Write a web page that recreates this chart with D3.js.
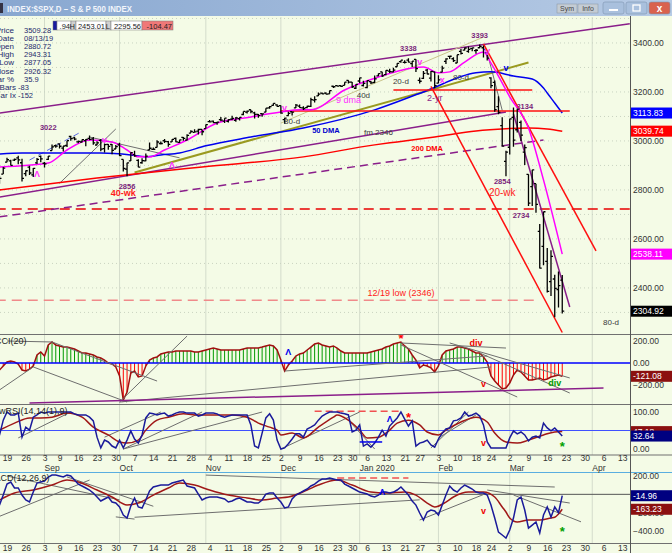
<!DOCTYPE html>
<html>
<head>
<meta charset="utf-8">
<script src="https://cdn.jsdelivr.net/npm/d3@7"></script>
<style>
body { margin: 0; background: #f4fbe6; }
svg { display: block; font-family: "Liberation Sans", Arial, sans-serif; }
</style>
</head>
<body>
<svg id="chart" width="672" height="553"></svg>
<script>
// trading days (plus the empty days to the right of the last bar)
var dates = [
"2019-08-14","2019-08-15","2019-08-16","2019-08-19","2019-08-20","2019-08-21","2019-08-22","2019-08-23","2019-08-26","2019-08-27","2019-08-28","2019-08-29","2019-08-30",
"2019-09-03","2019-09-04","2019-09-05","2019-09-06","2019-09-09","2019-09-10","2019-09-11","2019-09-12","2019-09-13","2019-09-16","2019-09-17","2019-09-18","2019-09-19","2019-09-20","2019-09-23","2019-09-24","2019-09-25","2019-09-26","2019-09-27","2019-09-30",
"2019-10-01","2019-10-02","2019-10-03","2019-10-04","2019-10-07","2019-10-08","2019-10-09","2019-10-10","2019-10-11","2019-10-14","2019-10-15","2019-10-16","2019-10-17","2019-10-18","2019-10-21","2019-10-22","2019-10-23","2019-10-24","2019-10-25","2019-10-28","2019-10-29","2019-10-30","2019-10-31",
"2019-11-01","2019-11-04","2019-11-05","2019-11-06","2019-11-07","2019-11-08","2019-11-11","2019-11-12","2019-11-13","2019-11-14","2019-11-15","2019-11-18","2019-11-19","2019-11-20","2019-11-21","2019-11-22","2019-11-25","2019-11-26","2019-11-27","2019-11-29",
"2019-12-02","2019-12-03","2019-12-04","2019-12-05","2019-12-06","2019-12-09","2019-12-10","2019-12-11","2019-12-12","2019-12-13","2019-12-16","2019-12-17","2019-12-18","2019-12-19","2019-12-20","2019-12-23","2019-12-24","2019-12-26","2019-12-27","2019-12-30","2019-12-31",
"2020-01-02","2020-01-03","2020-01-06","2020-01-07","2020-01-08","2020-01-09","2020-01-10","2020-01-13","2020-01-14","2020-01-15","2020-01-16","2020-01-17","2020-01-21","2020-01-22","2020-01-23","2020-01-24","2020-01-27","2020-01-28","2020-01-29","2020-01-30","2020-01-31",
"2020-02-03","2020-02-04","2020-02-05","2020-02-06","2020-02-07","2020-02-10","2020-02-11","2020-02-12","2020-02-13","2020-02-14","2020-02-18","2020-02-19","2020-02-20","2020-02-21","2020-02-24","2020-02-25","2020-02-26","2020-02-27","2020-02-28",
"2020-03-02","2020-03-03","2020-03-04","2020-03-05","2020-03-06","2020-03-09","2020-03-10","2020-03-11","2020-03-12","2020-03-13","2020-03-16","2020-03-17","2020-03-18","2020-03-19","2020-03-20",
"2020-03-23","2020-03-24","2020-03-25","2020-03-26","2020-03-27","2020-03-30","2020-03-31",
"2020-04-01","2020-04-02","2020-04-03","2020-04-06","2020-04-07","2020-04-08","2020-04-09","2020-04-10","2020-04-13","2020-04-14","2020-04-15","2020-04-16","2020-04-17"
];

var open = [
2894.15,2846.20,2864.74,2913.48,2919.01,2922.04,2930.94,2911.07,2866.70,2893.14,2861.28,2910.37,2937.09,
2909.01,2924.67,2960.60,2980.33,2988.43,2971.01,2981.41,3018.21,3012.21,2996.41,2995.67,3001.50,3010.36,3008.42,2983.50,3002.43,2968.35,2985.73,2985.47,2967.07,
2983.69,2924.78,2885.38,2918.56,2944.23,2920.40,2911.10,2918.55,2963.07,2965.81,2973.61,2989.68,3000.77,2996.84,2996.48,3010.73,2994.01,3014.78,3003.32,3032.12,3035.39,3039.74,3046.90,
3050.72,3078.96,3080.80,3075.10,3087.02,3081.25,3080.33,3089.28,3084.18,3090.75,3107.92,3117.91,3127.45,3114.66,3108.49,3111.41,3117.44,3134.85,3145.49,3147.18,
3143.85,3087.41,3103.50,3119.21,3134.62,3141.86,3135.36,3135.75,3141.23,3166.65,3183.63,3195.40,3195.21,3192.32,3223.33,3226.05,3225.45,3227.20,3247.23,3240.09,3215.18,
3244.67,3226.36,3217.55,3241.86,3238.59,3266.03,3281.81,3271.13,3285.35,3282.27,3302.97,3323.66,3321.03,3330.02,3315.77,3333.10,3247.16,3255.35,3289.46,3256.45,3282.33,
3235.66,3280.61,3324.91,3344.92,3335.54,3318.28,3365.87,3370.50,3365.90,3378.08,3369.04,3380.39,3380.45,3360.50,3257.61,3238.94,3139.90,3062.54,2916.90,
2974.28,3096.46,3045.75,3075.70,2954.20,2863.89,2813.48,2825.60,2630.86,2569.99,2508.59,2425.66,2436.50,2393.48,2431.94
];
var high = [
2894.15,2856.67,2893.63,2931.00,2923.63,2928.73,2939.08,2927.01,2879.27,2898.79,2890.03,2930.50,2940.43,
2914.39,2938.84,2985.86,2985.03,2989.43,2979.39,3000.93,3020.74,3017.33,3002.19,3006.21,3007.83,3021.99,3016.37,2999.15,3007.98,2989.82,2987.28,2987.31,2983.85,
2992.53,2924.78,2911.13,2953.74,2959.75,2925.47,2929.32,2948.46,2993.28,2972.84,3003.28,2997.54,3008.29,3000.00,3007.33,3014.57,3004.78,3016.07,3027.39,3044.08,3047.87,3050.10,3046.90,
3066.95,3085.20,3083.95,3078.34,3097.77,3093.09,3088.33,3102.61,3098.06,3097.20,3120.46,3124.17,3127.64,3118.97,3110.11,3112.87,3133.83,3142.69,3154.26,3150.30,
3144.31,3094.97,3119.38,3119.45,3150.60,3148.87,3142.12,3143.98,3176.28,3182.68,3197.71,3198.22,3198.48,3205.48,3225.65,3227.78,3226.43,3240.08,3247.93,3240.92,3231.72,
3258.14,3246.15,3246.84,3244.91,3267.07,3275.58,3282.99,3288.13,3294.25,3298.66,3317.11,3329.88,3329.79,3337.77,3326.88,3333.18,3258.85,3285.78,3293.47,3285.91,3282.33,
3268.44,3306.92,3337.58,3347.96,3341.42,3352.26,3375.63,3381.47,3385.09,3380.69,3375.01,3393.52,3389.15,3360.76,3259.81,3246.99,3182.51,3097.07,2959.72,
3090.96,3136.72,3130.97,3083.04,2985.93,2863.89,2882.59,2825.60,2660.95,2711.33,2562.98,2553.93,2453.57,2466.97,2453.01
];
var low = [
2839.64,2825.51,2864.74,2913.48,2899.60,2917.91,2904.51,2834.97,2856.00,2860.59,2853.05,2905.67,2913.32,
2891.85,2921.86,2960.60,2972.51,2969.39,2957.01,2975.31,3000.92,3002.90,2990.67,2993.73,2978.57,3003.16,2984.68,2982.23,2957.73,2952.86,2963.71,2945.53,2967.07,
2938.70,2874.93,2855.94,2918.56,2935.68,2892.66,2907.41,2917.12,2963.07,2962.94,2973.61,2985.20,2991.79,2976.31,2995.35,2995.04,2991.21,3000.42,3001.94,3032.12,3034.81,3025.96,3023.19,
3050.72,3074.87,3072.15,3065.89,3080.23,3073.58,3075.82,3084.73,3078.80,3083.26,3104.60,3112.06,3113.47,3091.41,3094.55,3099.26,3117.44,3131.00,3143.41,3139.34,
3110.78,3070.33,3102.53,3103.76,3134.62,3135.46,3126.09,3133.21,3138.47,3156.51,3183.63,3191.03,3191.14,3192.32,3216.03,3222.30,3220.51,3227.20,3234.37,3216.57,3212.03,
3235.53,3222.34,3214.64,3232.43,3236.67,3263.67,3260.86,3268.43,3277.19,3280.69,3302.82,3318.86,3316.61,3320.04,3301.87,3281.53,3234.50,3253.22,3271.89,3242.80,3214.68,
3235.66,3280.61,3313.75,3334.39,3322.12,3317.77,3352.72,3369.72,3360.52,3366.15,3355.61,3378.83,3341.02,3328.45,3214.65,3118.77,3108.99,2977.39,2855.84,
2945.19,2976.63,3034.38,2999.83,2901.54,2734.43,2734.00,2707.22,2478.86,2492.37,2380.94,2367.04,2280.52,2319.78,2295.56
];
var close = [
2840.60,2847.60,2888.68,2923.65,2900.51,2924.43,2922.95,2847.11,2878.38,2869.16,2887.94,2924.58,2926.46,
2906.27,2937.78,2976.00,2978.71,2978.43,2979.39,3000.93,3009.57,3007.39,2997.96,3005.70,3006.73,3006.79,2992.07,2991.78,2966.60,2984.87,2977.62,2961.79,2976.74,
2940.25,2887.61,2910.63,2952.01,2938.79,2893.06,2919.40,2938.13,2970.27,2966.15,2995.68,2989.69,2997.95,2986.20,3006.72,2995.99,3004.52,3010.29,3022.55,3039.42,3036.89,3046.77,3037.56,
3066.91,3078.27,3074.62,3076.78,3085.18,3093.08,3087.01,3091.84,3094.04,3096.63,3120.46,3122.03,3120.18,3108.46,3103.54,3110.29,3133.64,3140.52,3153.63,3140.98,
3113.87,3093.20,3112.76,3117.43,3145.91,3135.96,3132.52,3141.63,3168.57,3168.80,3191.45,3192.52,3191.14,3205.37,3221.22,3224.01,3223.38,3239.91,3240.02,3221.29,3230.78,
3257.85,3234.85,3246.28,3237.18,3253.05,3274.70,3265.35,3288.13,3283.15,3289.29,3316.81,3329.62,3320.79,3321.75,3325.54,3295.47,3243.63,3276.24,3273.40,3283.66,3225.52,
3248.92,3297.59,3334.69,3345.78,3327.71,3352.09,3357.75,3379.45,3373.94,3380.16,3370.29,3386.15,3373.23,3337.75,3225.89,3128.21,3116.39,2978.76,2954.22,
3090.23,3003.37,3130.12,3023.94,2972.37,2746.56,2882.23,2741.38,2480.64,2711.02,2386.13,2529.19,2398.10,2409.39,2304.92
];

// indicators
var cci = [
-45,-64,-27,9,18,9,-9,-64,-73,-55,-27,73,100,
64,164,191,164,155,145,145,136,127,109,91,91,82,73,55,45,27,0,-9,-36,
-118,-336,-264,-91,-73,-127,-118,-27,27,45,55,82,91,100,100,109,109,109,109,109,100,100,109,
118,127,136,127,118,118,118,118,118,118,127,136,136,136,136,145,155,164,155,118,
27,-73,-18,18,64,82,91,118,145,173,182,164,155,145,155,136,109,91,91,91,91,
91,91,91,100,109,118,127,145,155,173,182,191,155,127,73,27,-45,-18,-27,-45,-82,
-27,73,109,118,127,145,145,136,127,109,91,91,55,9,-118,-164,-200,-236,-227,
-182,-109,-64,-82,-118,-155,-155,-145,-136,-155,-145,-127,-118,-109,-121
];
var rsi = [
32,38,78,100,92,92,97,32,59,51,86,92,100,
97,100,100,100,100,100,100,100,95,92,92,92,86,76,32,3,24,19,8,3,
24,3,24,49,27,16,38,84,97,95,92,95,97,89,92,97,100,100,97,97,97,89,92,
97,97,97,95,89,86,89,92,92,92,92,92,65,8,3,43,84,95,78,24,
0,3,14,27,41,41,32,54,59,65,78,89,95,100,100,100,97,95,92,46,51,
65,8,14,5,16,32,51,35,62,73,84,100,81,62,76,8,16,19,24,11,5,
27,43,54,57,76,78,84,100,89,92,97,89,65,19,3,3,3,3,3,
30,49,41,46,38,22,32,35,30,70,57,49,57,46,35
];
var macd = [
-149,-117,-8,112,134,69,69,-8,-62,-84,25,123,134,
145,189,210,210,200,189,210,200,156,112,91,69,47,14,-29,-73,-51,-29,-84,-95,
-138,-226,-259,-128,-40,-138,-149,-62,36,80,91,101,101,101,123,134,145,156,91,80,69,3,-62,
-40,-29,-29,-29,-40,-51,-84,-73,-51,-40,-62,-84,-84,-95,-95,-62,3,14,14,-40,
-84,-149,-138,-51,-8,14,36,58,91,112,145,167,167,178,167,156,156,112,91,69,47,
25,14,3,-19,-29,-8,25,25,14,25,47,80,36,-8,-73,-117,-204,-280,-193,-171,-182,
-226,-117,-8,91,47,25,69,101,80,58,25,14,14,-8,-117,-259,-412,-444,-477,
-390,-259,-62,-29,-171,-368,-335,-302,-422,-226,-138,-248,-138,-200,-15
];
var rsiSignal = [
["2019-08-15",51],["2019-08-21",70],["2019-08-27",84],["2019-08-30",84],["2019-09-05",86],["2019-09-11",97],
["2019-09-17",86],["2019-09-20",59],["2019-09-26",38],["2019-10-01",19],["2019-10-03",16],["2019-10-08",24],
["2019-10-10",51],["2019-10-15",78],["2019-10-18",86],["2019-10-24",95],["2019-10-30",92],["2019-11-12",92],
["2019-11-18",86],["2019-11-21",70],["2019-11-26",59],["2019-11-29",51],["2019-12-02",38],["2019-12-05",43],
["2019-12-10",30],["2019-12-16",59],["2019-12-20",86],["2019-12-23",92],["2019-12-27",78],["2020-01-02",51],
["2020-01-06",30],["2020-01-09",32],["2020-01-14",51],["2020-01-16",70],["2020-01-22",78],["2020-01-27",65],
["2020-01-29",46],["2020-02-03",38],["2020-02-05",51],["2020-02-11",73],["2020-02-18",86],["2020-02-21",73],
["2020-02-25",43],["2020-02-28",19],["2020-03-04",16],["2020-03-09",24],["2020-03-13",38],["2020-03-18",46],
["2020-03-20",47]
];
var macdSignal = [
["2019-08-15",-62],["2019-08-21",14],["2019-08-28",47],["2019-09-05",101],["2019-09-11",156],["2019-09-16",134],
["2019-09-23",47],["2019-09-27",-29],["2019-10-03",-117],["2019-10-08",-95],["2019-10-14",-8],["2019-10-18",69],
["2019-10-23",123],["2019-10-29",101],["2019-11-04",47],["2019-11-11",-8],["2019-11-18",-40],["2019-11-22",-62],
["2019-11-29",-40],["2019-12-04",-29],["2019-12-11",47],["2019-12-16",101],["2019-12-23",156],["2019-12-30",101],
["2020-01-07",25],["2020-01-13",14],["2020-01-21",25],["2020-01-24",-8],["2020-01-29",-95],["2020-01-31",-138],
["2020-02-05",-84],["2020-02-07",-29],["2020-02-13",25],["2020-02-20",25],["2020-02-25",-29],["2020-02-27",-138],
["2020-02-28",-193],["2020-03-02",-258],["2020-03-04",-302],["2020-03-09",-280],["2020-03-12",-280],
["2020-03-17",-258],["2020-03-18",-250],["2020-03-19",-215],["2020-03-20",-163]
];

// moving averages
var ma9 = [
["2019-08-15",2894],["2019-09-04",2910],["2019-09-11",2963],["2019-09-19",3004],["2019-09-27",2996],["2019-10-03",2963],
["2019-10-08",2935],["2019-10-11",2935],["2019-10-17",2963],["2019-10-25",3004],["2019-11-06",3073],["2019-11-19",3098],
["2019-12-02",3118],["2019-12-09",3127],["2019-12-12",3127],["2019-12-26",3208],["2020-01-09",3261],["2020-01-23",3298],
["2020-01-28",3302],["2020-02-03",3278],["2020-02-06",3282],["2020-02-12",3322],["2020-02-20",3363],["2020-02-24",3318],
["2020-03-02",3180],["2020-03-09",3053],["2020-03-13",2841],["2020-03-20",2538]
];
var ma50 = [
["2019-08-15",2947],["2019-08-23",2951],["2019-09-11",2951],["2019-09-24",2951],["2019-10-04",2943],["2019-10-10",2935],
["2019-10-16",2943],["2019-10-23",2951],["2019-11-01",2980],["2019-11-19",3016],["2019-12-10",3053],["2020-01-08",3127],
["2020-01-28",3200],["2020-02-18",3278],["2020-02-24",3282],["2020-03-03",3265],["2020-03-10",3253],["2020-03-13",3216],
["2020-03-16",3196],["2020-03-18",3155],["2020-03-20",3114]
];
var ma200 = [
["2019-08-15",2800],["2019-09-23",2849],["2019-10-31",2894],["2019-12-10",2935],["2020-01-08",2984],["2020-01-16",2996],
["2020-01-31",3016],["2020-02-18",3041],["2020-02-28",3050],["2020-03-09",3053],["2020-03-16",3049],["2020-03-20",3040]
];

// hand-drawn lines on the price panel [date, price]
var purpleLines = [
[["2019-08-15",3114],["2020-04-15",3478]],
[["2019-08-15",2771],["2020-02-28",3118]],
[["2020-03-03",3110],["2020-03-24",2322]]
];
var purpleDashed = [[["2019-08-15",2690],["2020-03-13",3004]]];
var redLines = [
[["2020-01-15",3208],["2020-03-10",3208]],
[["2019-12-02",3122],["2020-03-24",3122]],
[["2020-01-30",3223],["2020-03-20",2218]],
[["2020-02-20",3396],["2020-04-02",2551]]
];
var redDashed = [[["2019-08-14",2722],["2020-04-17",2722]]];
var pinkDashed = [[["2019-08-14",2350],["2020-03-12",2350]]];
var oliveLines = [[["2019-10-07",2871],["2020-03-09",3320]]];
var tanLines = [[["2019-12-02",3073],["2020-02-20",3424]]];
var grayLines = [
[["2019-09-09",2827],["2019-09-30",3049]],
[["2019-09-19",3016],["2019-10-23",2931]],
[["2020-02-21",3360],["2020-02-27",3125]]
];
var blueDashed = [[["2019-08-27",2922],["2019-09-17",3039]]];

// hand-drawn lines on the indicator panels [date, value]
var cciLines = [
[["2019-08-19",200],["2019-09-05",191]],
[["2019-09-05",191],["2019-10-15",-164]],
[["2019-08-15",-245],["2019-08-28",-36]],
[["2019-08-28",-36],["2019-10-03",-355]],
[["2019-10-01",-355],["2019-10-25",245]],
[["2019-10-01",-355],["2020-02-24",-36]],
[["2019-12-03",-73],["2020-02-21",64]],
[["2020-01-17",182],["2020-02-28",136]],
[["2020-02-06",182],["2020-03-24",-136]],
[["2020-01-17",164],["2020-03-04",-309]],
[["2020-02-19",91],["2020-03-24",-273]]
];
var cciPurple = [[["2019-08-27",-364],["2020-04-06",-227]]];
var rsiLines = [
[["2019-08-22",30],["2019-09-12",100]],
[["2019-09-25",32],["2019-10-16",100]],
[["2019-10-02",0],["2019-10-31",100]],
[["2019-10-02",0],["2019-11-22",100]],
[["2019-12-02",0],["2020-01-02",100]],
[["2019-12-27",78],["2020-01-08",0]],
[["2020-01-30",3],["2020-02-13",100]],
[["2020-02-03",30],["2020-02-18",92]]
];
var rsiBlueLine = [[["2020-01-02",19],["2020-01-10",19]]];
var rsiRedDashed = [[["2019-12-13",102],["2020-01-17",102]]];
var macdLines = [
[["2019-08-15",-240],["2019-09-19",156]],
[["2019-08-19",200],["2019-10-01",-60]],
[["2019-09-11",190],["2019-10-14",-130]],
[["2019-09-30",-246],["2019-10-07",-270]],
[["2019-10-07",-250],["2020-01-27",-60]],
[["2019-11-01",210],["2020-03-18",80]],
[["2020-01-27",-280],["2020-02-21",14]],
[["2020-02-21",47],["2020-03-24",-95]],
[["2020-03-03",-7],["2020-03-27",-300]]
];
var macdRedDashed = [[["2019-12-23",178],["2020-01-22",178]]];

// annotations [text, date, value]
var purpleLabels = [["3022","2019-09-04",3053],["2856","2019-10-03",2816],["3338","2020-01-22",3376],["3393","2020-02-19",3429],
  ["2854","2020-02-27",2833],["2734","2020-03-05",2694],["3134","2020-03-06",3139]];
var redLabels = [["40-wk","2019-10-02",2788],["20-wk","2020-02-27",2788],["12/19 low (2346)","2020-01-17",2380]];
var grayLabels = [["20-d","2020-01-17",3241],["40d","2020-01-03",3184],["80-d","2020-02-11",3261],["80-d","2019-12-05",3078],
  ["80-d","2020-04-08",2257],["fm 2346","2020-01-09",3033]];
var maLabels = [["50 DMA","2019-12-18",3041],["200 DMA","2020-01-29",2971],["9 dma","2019-12-27",3167],["2-yr","2020-01-31",3176]];
var pinkMarks = [["v","2020-01-27",3322],["V","2020-02-21",3363],["x","2020-02-04",3249],["v","2019-12-03",3135],
  ["Λ","2019-08-29",2865],["Λ","2019-10-21",2902],["v","2019-09-25",3004]];
var blueMarks = [["v","2020-02-28",3298]];
var cciMarks = [["Λ","2019-12-04",100],["*","2020-01-17",227],["div","2020-02-18",182],["v","2020-02-20",-191],["div","2020-03-18",-182]];
var rsiMarks = [["Λ","2020-01-14",81],["*","2020-01-22",86],["v","2020-02-20",16],["*","2020-03-20",8]];
var macdMarks = [["Λ","2020-01-10",25],["v","2020-02-20",-182],["*","2020-03-20",-400]];

// axis labels
var weekTicks = ["2019-08-19","2019-08-26","2019-09-03","2019-09-09","2019-09-16","2019-09-23","2019-09-30","2019-10-07",
  "2019-10-14","2019-10-21","2019-10-28","2019-11-04","2019-11-11","2019-11-18","2019-11-25","2019-12-02","2019-12-09",
  "2019-12-16","2019-12-23","2019-12-30","2020-01-06","2020-01-13","2020-01-21","2020-01-27","2020-02-03","2020-02-10",
  "2020-02-18","2020-02-24","2020-03-02","2020-03-09","2020-03-16","2020-03-23","2020-03-30","2020-04-06","2020-04-13"];
var monthStarts = ["2019-09-03","2019-10-01","2019-11-01","2019-12-02","2020-01-02","2020-02-03","2020-03-02","2020-04-01"];
var monthNames = ["Sep","Oct","Nov","Dec","Jan 2020","Feb","Mar","Apr"];
var priceTicks = [2400, 2600, 2800, 3000, 3200, 3400];
var infoLabels = ["Price","Date","Open","High","Low","Close","Var %","#Bars","Bar Ix"];
var infoValues = ["3509.28","08/13/19","2880.72","2943.31","2877.05","2926.32","35.9","-83","-152"];

var svg = d3.select("#chart");
var idx = {};
dates.forEach(function (d, i) { idx[d] = i; });

var x = d3.scaleLinear().domain([3, 152]).range([7, 566]);
function xd(d) { return x(idx[d]); }
var yP = d3.scaleLinear().domain([2216, 3506]).range([333, 17]);
var yC = d3.scaleLinear().domain([-200, 200]).range([385, 341]);
var yR = d3.scaleLinear().domain([0, 100]).range([449, 412]);
var yM = d3.scaleLinear().domain([-400, 200]).range([531, 476]);

svg.append("rect").attr("width", 672).attr("height", 553).attr("fill", "#f4fbe6");

// clip areas for each panel
var defs = svg.append("defs");
function clip(id, y0, y1) {
    defs.append("clipPath").attr("id", id).append("rect")
        .attr("x", 0).attr("y", y0).attr("width", 630).attr("height", y1 - y0);
    return svg.append("g").attr("clip-path", "url(#" + id + ")");
}
var gMain = clip("cMain", 17, 334);
var gC = clip("cCci", 335, 404);
var gR = clip("cRsi", 405, 455);
var gM = clip("cMacd", 473, 543);

// month grid lines
[gMain, gC, gR, gM].forEach(function (g) {
    g.selectAll("line.mg").data(monthStarts).join("line").attr("class", "mg")
        .attr("x1", xd).attr("x2", xd).attr("y1", 0).attr("y2", 553)
        .attr("stroke", "#d3dccb").attr("stroke-width", 1);
});
gMain.selectAll("line.hg").data(d3.range(2300, 3501, 100)).join("line").attr("class", "hg")
    .attr("x1", 0).attr("x2", 630).attr("y1", yP).attr("y2", yP)
    .attr("stroke", "#c9d3c1").attr("stroke-dasharray", "1,3");

function drawLines(g, list, yS, color, width, dash) {
    g.selectAll(null).data(list).join("path")
        .attr("d", d3.line().x(function (p) { return xd(p[0]); }).y(function (p) { return yS(p[1]); }))
        .attr("fill", "none").attr("stroke", color).attr("stroke-width", width)
        .attr("stroke-dasharray", dash || null);
}
function drawCurve(g, pts, yS, color, width) {
    g.append("path").datum(pts)
        .attr("d", d3.line().curve(d3.curveMonotoneX)
            .x(function (p) { return xd(p[0]); }).y(function (p) { return yS(p[1]); }))
        .attr("fill", "none").attr("stroke", color).attr("stroke-width", width);
}
function drawSeries(g, vals, yS, color, width) {
    g.append("path").datum(vals)
        .attr("d", d3.line().x(function (v, i) { return x(i); }).y(function (v) { return yS(v); }))
        .attr("fill", "none").attr("stroke", color).attr("stroke-width", width);
}
function drawText(g, list, yS, color, size, weight) {
    g.selectAll(null).data(list).join("text")
        .attr("x", function (d) { return xd(d[1]); }).attr("y", function (d) { return yS(d[2]); })
        .attr("text-anchor", "middle").attr("dominant-baseline", "central")
        .attr("fill", color).attr("font-size", size).attr("font-weight", weight || "normal")
        .text(function (d) { return d[0]; });
}

// ---- price panel ----
drawLines(gMain, pinkDashed, yP, "#f08a8a", 1.5, "10,6");
drawLines(gMain, redDashed, yP, "#e80000", 1.5, "10,6");
drawLines(gMain, purpleDashed, yP, "#8a1e8a", 1.5, "8,5");
drawLines(gMain, purpleLines, yP, "#8a1e8a", 1.5);
drawLines(gMain, tanLines, yP, "#c9c38a", 1);
drawLines(gMain, oliveLines, yP, "#9a9a20", 2);
drawLines(gMain, grayLines, yP, "#707070", 1);
drawLines(gMain, blueDashed, yP, "#5a6ae0", 1, "6,4");
drawCurve(gMain, ma200, yP, "#ff0000", 1.5);
drawCurve(gMain, ma50, yP, "#0000ee", 1.5);
drawLines(gMain, redLines, yP, "#ff1010", 1.5);
drawCurve(gMain, ma9, yP, "#ff00ff", 1.5);

gMain.selectAll("path.bar").data(close).join("path").attr("class", "bar")
    .attr("d", function (c, i) {
        var xi = x(i);
        return "M" + xi + "," + yP(high[i]) + "V" + yP(low[i]) +
            "M" + (xi - 2) + "," + yP(open[i]) + "H" + xi +
            "M" + xi + "," + yP(c) + "H" + (xi + 2);
    })
    .attr("fill", "none").attr("stroke", "#000").attr("stroke-width", 1.3);

drawText(gMain, purpleLabels, yP, "#7a1f7a", 7.5, "bold");
drawText(gMain, [redLabels[0]], yP, "#ff1a1a", 9, "bold");
drawText(gMain, [redLabels[1]], yP, "#ff1a1a", 10);
drawText(gMain, [redLabels[2]], yP, "#ff1a1a", 9);
drawText(gMain, grayLabels, yP, "#3a3a3a", 8);
drawText(gMain, [maLabels[0]], yP, "#0000cc", 7.5, "bold");
drawText(gMain, [maLabels[1]], yP, "#ff0000", 7.5, "bold");
drawText(gMain, [maLabels[2]], yP, "#ff33ff", 9);
drawText(gMain, [maLabels[3]], yP, "#8a1e8a", 9);
drawText(gMain, pinkMarks, yP, "#ff33ff", 9, "bold");
drawText(gMain, blueMarks, yP, "#0000ee", 9, "bold");

// ---- CCI panel ----
gC.selectAll("line.hist").data(cci).join("line").attr("class", "hist")
    .attr("x1", function (v, i) { return x(i); }).attr("x2", function (v, i) { return x(i); })
    .attr("y1", yC(0)).attr("y2", function (v) { return yC(v); })
    .attr("stroke", function (v) { return v >= 0 ? "#009a00" : "#ff0000"; }).attr("stroke-width", 1);
drawSeries(gC, cci, yC, "#a01010", 1.5);
gC.append("line").attr("x1", 0).attr("x2", 630).attr("y1", yC(0)).attr("y2", yC(0))
    .attr("stroke", "#0000ff").attr("stroke-width", 1.5);
drawLines(gC, cciLines, yC, "#6e6e6e", 1);
drawLines(gC, cciPurple, yC, "#8a1e8a", 1.5);
drawText(gC, [cciMarks[0]], yC, "#0000ee", 9, "bold");
drawText(gC, [cciMarks[1]], yC, "#ff0000", 13, "bold");
drawText(gC, cciMarks.slice(2, 4), yC, "#ee0000", 9, "bold");
drawText(gC, [cciMarks[4]], yC, "#009a00", 9, "bold");

// ---- RSI panel ----
gR.append("line").attr("x1", 0).attr("x2", 630).attr("y1", yR(50)).attr("y2", yR(50))
    .attr("stroke", "#4050ff").attr("stroke-width", 1);
drawLines(gR, rsiLines, yR, "#6e6e6e", 1);
drawLines(gR, rsiRedDashed, yR, "#f05050", 1.5, "7,4");
drawCurve(gR, rsiSignal, yR, "#a01818", 1.5);
drawSeries(gR, rsi, yR, "#1a1a9a", 1.5);
drawLines(gR, rsiBlueLine, yR, "#0000ee", 1.5);
drawText(gR, [rsiMarks[0]], yR, "#0000ee", 9, "bold");
drawText(gR, [rsiMarks[1]], yR, "#ff0000", 13, "bold");
drawText(gR, [rsiMarks[2]], yR, "#ee0000", 9, "bold");
drawText(gR, [rsiMarks[3]], yR, "#00a000", 13, "bold");

// ---- MACD panel ----
gM.append("line").attr("x1", 0).attr("x2", 630).attr("y1", yM(0)).attr("y2", yM(0))
    .attr("stroke", "#555").attr("stroke-width", 1);
drawLines(gM, macdLines, yM, "#6e6e6e", 1);
drawLines(gM, macdRedDashed, yM, "#f05050", 1.5, "7,4");
drawCurve(gM, macdSignal, yM, "#a01818", 1.5);
drawSeries(gM, macd, yM, "#1a1a9a", 1.5);
drawText(gM, [macdMarks[0]], yM, "#0000ee", 9, "bold");
drawText(gM, [macdMarks[1]], yM, "#ee0000", 9, "bold");
drawText(gM, [macdMarks[2]], yM, "#00a000", 13, "bold");

// panel titles (cut at the left edge, as in the window)
svg.append("text").attr("x", -5).attr("y", 344).attr("font-size", 9).attr("fill", "#222").text("CCI(20)");
svg.append("text").attr("x", -14).attr("y", 414).attr("font-size", 9).attr("fill", "#222").text("SlowRSI(14,14(1),9)");
svg.append("text").attr("x", -13).attr("y", 481).attr("font-size", 9).attr("fill", "#222").text("MACD(12,26,9)");

// panel borders
[[334.5, "#707070"], [404.5, "#707070"], [455, "#707070"], [472.5, "#5aaee0"], [543.5, "#707070"]].forEach(function (b) {
    svg.append("line").attr("x1", 0).attr("x2", 672).attr("y1", b[0]).attr("y2", b[0])
        .attr("stroke", b[1]).attr("stroke-width", 1.2);
});
svg.append("line").attr("x1", 630.5).attr("x2", 630.5).attr("y1", 16).attr("y2", 553)
    .attr("stroke", "#555").attr("stroke-width", 1);

// right value axes
function rightAxis(yS, ticks) {
    var g = svg.append("g").attr("transform", "translate(630,0)")
        .call(d3.axisRight(yS).tickValues(ticks).tickFormat(d3.format(".2f")).tickSize(0).tickPadding(3));
    g.select(".domain").remove();
    g.selectAll("text").attr("font-size", 8.5).attr("fill", "#333")
        .attr("font-family", "'Liberation Sans', Arial, sans-serif");
}
rightAxis(yP, priceTicks);
rightAxis(yC, [200, 0, -200]);
rightAxis(yR, [100, 0]);
rightAxis(yM, [200, -200, -400]);

function valueBox(yv, label, fill) {
    svg.append("rect").attr("x", 631).attr("y", yv - 5.5).attr("width", 41).attr("height", 11).attr("fill", fill);
    svg.append("text").attr("x", 633).attr("y", yv).attr("dominant-baseline", "central")
        .attr("font-size", 8.5).attr("fill", "#fff").text(label);
}
valueBox(yP(ma50[ma50.length - 1][1]), "3113.83", "#0000ff");
valueBox(yP(ma200[ma200.length - 1][1]), "3039.74", "#ff0000");
valueBox(yP(ma9[ma9.length - 1][1]), "2538.11", "#ff00ff");
valueBox(yP(close[close.length - 1]), "2304.92", "#000000");
valueBox(yC(cci[cci.length - 1]), "-121.08", "#8b1010");
valueBox(yR(rsiSignal[rsiSignal.length - 1][1]), "47.18", "#8b1010");
valueBox(yR(rsi[rsi.length - 1]), "32.64", "#000080");
valueBox(yM(macd[macd.length - 1]), "-14.96", "#000080");
valueBox(yM(macdSignal[macdSignal.length - 1][1]), "-163.23", "#8b1010");

// date axes
function dateAxis(y0) {
    var g = svg.append("g").attr("transform", "translate(0," + y0 + ")")
        .call(d3.axisBottom(x).tickValues(weekTicks.map(function (d) { return idx[d]; }))
            .tickFormat(function (i) { return +dates[i].slice(8); }).tickSize(0).tickPadding(2));
    g.select(".domain").remove();
    g.selectAll("text").attr("font-size", 8.5).attr("fill", "#333")
        .attr("font-family", "'Liberation Sans', Arial, sans-serif");
}
dateAxis(453);
dateAxis(543);
svg.selectAll("text.month").data(monthStarts).join("text").attr("class", "month")
    .attr("x", xd).attr("y", 471).attr("font-size", 8.5).attr("fill", "#333")
    .text(function (d, i) { return monthNames[i]; });

// window title bar
var grad = defs.append("linearGradient").attr("id", "bar");
grad.append("stop").attr("offset", "0").attr("stop-color", "#88a7d0");
grad.append("stop").attr("offset", "1").attr("stop-color", "#b7cbe5");
svg.append("rect").attr("width", 672).attr("height", 16).attr("fill", "url(#bar)");
svg.append("rect").attr("x", 0).attr("y", 3).attr("width", 3).attr("height", 10).attr("fill", "#334");
svg.append("text").attr("x", 7).attr("y", 11.5).attr("font-size", 9).attr("font-weight", "bold")
    .attr("textLength", 125).attr("lengthAdjust", "spacingAndGlyphs")
    .attr("fill", "#f2f5fb").text("INDEX:$SPX,D – S & P 500 INDEX");
[[557, "Sym"], [578, "Info"]].forEach(function (b) {
    svg.append("rect").attr("x", b[0]).attr("y", 4).attr("width", 20).attr("height", 9)
        .attr("fill", "#c4ccd4").attr("stroke", "#8894a0").attr("stroke-width", 0.5);
    svg.append("text").attr("x", b[0] + 10).attr("y", 11).attr("text-anchor", "middle")
        .attr("font-size", 7).attr("fill", "#444").text(b[1]);
});
[[603, "#a9c0dd"], [626, "#a9c0dd"], [649, "#d9624e"]].forEach(function (b) {
    svg.append("rect").attr("x", b[0]).attr("y", 2).attr("width", 21).attr("height", 12).attr("rx", 2)
        .attr("fill", b[1]).attr("stroke", "#7d93b0").attr("stroke-width", 0.6);
});
svg.append("rect").attr("x", 609).attr("y", 9).attr("width", 9).attr("height", 2).attr("fill", "#fff");
svg.append("rect").attr("x", 633).attr("y", 5).attr("width", 7).attr("height", 6).attr("fill", "none").attr("stroke", "#fff").attr("stroke-width", 1.3);
svg.append("text").attr("x", 659.5).attr("y", 12).attr("text-anchor", "middle").attr("font-size", 10)
    .attr("font-weight", "bold").attr("fill", "#fff").text("x");

// OHLC strip
var strip = [[53, 4, "#1a1aa0", ""], [57, 14, "#ffffff", ".94"], [71, 5, "#d0d0d0", "H"], [76, 30, "#ffffff", "2453.01"],
    [106, 5, "#d0d0d0", "L"], [111, 31, "#ffffff", "2295.56"], [142, 31, "#f07878", "-104.47"]];
strip.forEach(function (s) {
    svg.append("rect").attr("x", s[0]).attr("y", 21).attr("width", s[1]).attr("height", 9)
        .attr("fill", s[2]).attr("stroke", "#777").attr("stroke-width", 0.5);
    svg.append("text").attr("x", s[0] + s[1] - 1).attr("y", 28.5).attr("text-anchor", "end")
        .attr("font-size", 7.5).attr("fill", "#222").text(s[3]);
});

// crosshair info (its label column runs off the left edge)
infoLabels.forEach(function (l, i) {
    var yy = 30 + i * 8.2;
    svg.append("text").attr("x", i < 7 ? 14 : 16).attr("y", yy).attr("dominant-baseline", "central")
        .attr("text-anchor", "end").attr("font-size", 8).attr("fill", "#1d2a6c").text(l);
    svg.append("text").attr("x", i < 7 ? 24 : 18).attr("y", yy).attr("dominant-baseline", "central")
        .attr("font-size", 7.5).attr("fill", "#1d2a6c").text(infoValues[i]);
});
</script>
</body>
</html>
